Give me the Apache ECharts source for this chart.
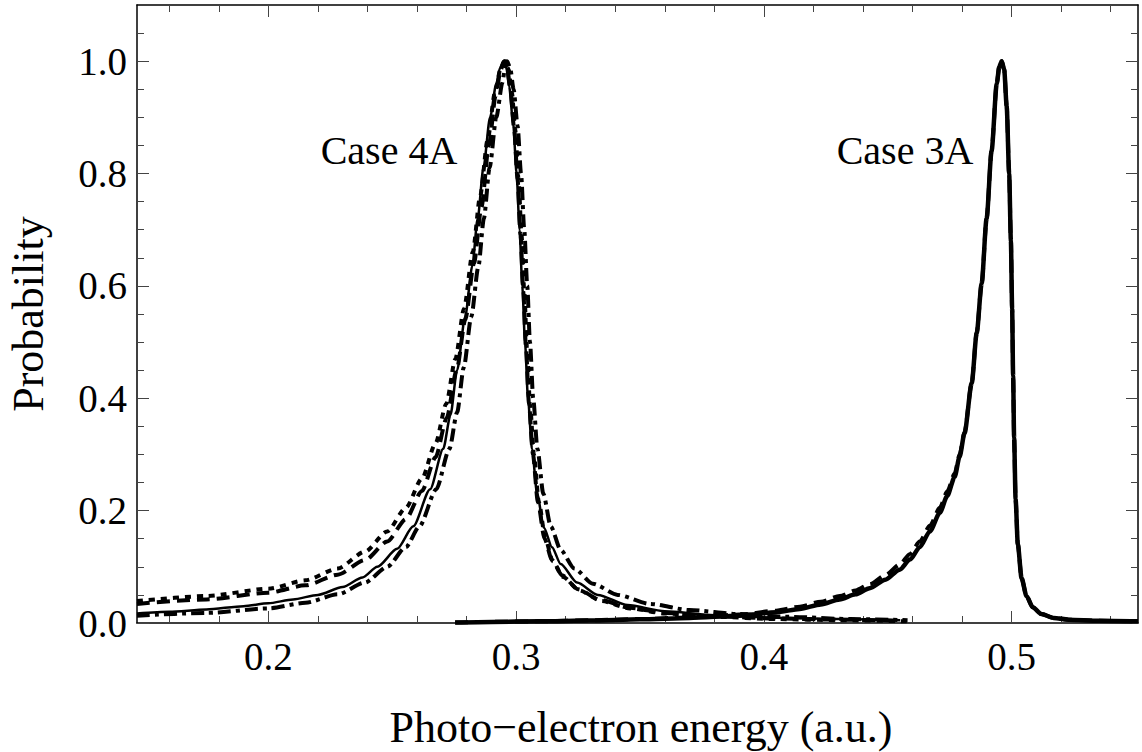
<!DOCTYPE html>
<html>
<head>
<meta charset="utf-8">
<script src="https://cdn.jsdelivr.net/npm/echarts@6/dist/echarts.min.js"></script>
<style>html,body{margin:0;padding:0;background:#fff}#c{width:1142px;height:752px}</style>
</head>
<body>
<div id="c"></div>
<script>
// ---- tick values ----
const xTicksMajor = [0.2, 0.3, 0.4, 0.5];
const xTicksMinor = [0.16, 0.18, 0.22, 0.24, 0.26, 0.28, 0.32, 0.34, 0.36, 0.38, 0.42, 0.44, 0.46, 0.48, 0.52, 0.54];
const yTicksMajor = [0, 0.2, 0.4, 0.6, 0.8, 1.0];
const yTicksMinor = [0.05, 0.1, 0.15, 0.25, 0.3, 0.35, 0.45, 0.5, 0.55, 0.65, 0.7, 0.75, 0.85, 0.9, 0.95, 1.05];

// ---- Case 4A: solid (thin) ----
const c4A_solid_x = [0.147, 0.160, 0.175, 0.190, 0.200, 0.210, 0.220, 0.230, 0.238, 0.244, 0.252, 0.2585, 0.2653, 0.2706, 0.2735, 0.2762, 0.2794, 0.2823, 0.2845, 0.2868, 0.2895, 0.2920, 0.2935, 0.2948, 0.2960, 0.2972, 0.2988, 0.3002, 0.3014, 0.3025, 0.3036, 0.3048, 0.3064, 0.3085, 0.3112, 0.3145, 0.3180, 0.3246, 0.3330, 0.3450, 0.3600, 0.3800, 0.4050, 0.4300, 0.4550];
const c4A_solid_y = [0.017, 0.020, 0.024, 0.030, 0.035, 0.042, 0.050, 0.064, 0.081, 0.100, 0.132, 0.172, 0.238, 0.310, 0.370, 0.450, 0.544, 0.635, 0.720, 0.810, 0.900, 0.960, 0.988, 1.000, 0.990, 0.955, 0.890, 0.800, 0.700, 0.600, 0.500, 0.400, 0.310, 0.230, 0.170, 0.135, 0.105, 0.072, 0.050, 0.032, 0.021, 0.014, 0.0095, 0.007, 0.005];

// ---- Case 4A: dashed ----
const c4A_dash_x = [0.147, 0.175, 0.200, 0.215, 0.228, 0.239, 0.248, 0.2555, 0.262, 0.2675, 0.2720, 0.2760, 0.2795, 0.2830, 0.2860, 0.2890, 0.2918, 0.2938, 0.2952, 0.2965, 0.2978, 0.2992, 0.3006, 0.3018, 0.3029, 0.3040, 0.3052, 0.3068, 0.3088, 0.3115, 0.3145, 0.3185, 0.3250, 0.3340, 0.3460, 0.3600, 0.3800, 0.4050, 0.4300, 0.4550];
const c4A_dash_y = [0.034, 0.042, 0.054, 0.067, 0.086, 0.112, 0.145, 0.185, 0.235, 0.295, 0.365, 0.450, 0.540, 0.640, 0.740, 0.850, 0.940, 0.985, 1.000, 0.985, 0.945, 0.880, 0.790, 0.690, 0.590, 0.490, 0.390, 0.300, 0.215, 0.150, 0.112, 0.085, 0.060, 0.041, 0.027, 0.018, 0.012, 0.008, 0.006, 0.004];

// ---- Case 4A: dotted ----
const c4A_dot_x = [0.147, 0.175, 0.200, 0.215, 0.228, 0.239, 0.248, 0.2555, 0.262, 0.2675, 0.2718, 0.2755, 0.2790, 0.2825, 0.2855, 0.2885, 0.2915, 0.2938, 0.2956, 0.2970, 0.2983, 0.2996, 0.3010, 0.3022, 0.3033, 0.3044, 0.3056, 0.3072, 0.3092, 0.3118, 0.3148, 0.3190, 0.3255, 0.3345, 0.3460, 0.3600, 0.3800, 0.4050, 0.4300, 0.4580];
const c4A_dot_y = [0.039, 0.048, 0.061, 0.076, 0.097, 0.127, 0.163, 0.205, 0.257, 0.320, 0.390, 0.470, 0.560, 0.660, 0.760, 0.860, 0.945, 0.988, 1.000, 0.985, 0.945, 0.880, 0.790, 0.690, 0.590, 0.490, 0.390, 0.300, 0.215, 0.150, 0.110, 0.082, 0.058, 0.039, 0.026, 0.017, 0.011, 0.007, 0.005, 0.003];

// ---- Case 4A: dot-dashed ----
const c4A_dotdash_x = [0.147, 0.175, 0.200, 0.215, 0.228, 0.239, 0.248, 0.2555, 0.2610, 0.2678, 0.2731, 0.2762, 0.2789, 0.2819, 0.2848, 0.2870, 0.2893, 0.2920, 0.2945, 0.2955, 0.2964, 0.2976, 0.2990, 0.3006, 0.3020, 0.3033, 0.3045, 0.3056, 0.3069, 0.3086, 0.3110, 0.3140, 0.3180, 0.3235, 0.3310, 0.3410, 0.3540, 0.3700, 0.3900, 0.4100, 0.4350, 0.4580];
const c4A_dotdash_y = [0.013, 0.018, 0.026, 0.036, 0.051, 0.072, 0.100, 0.135, 0.172, 0.238, 0.310, 0.375, 0.455, 0.545, 0.635, 0.720, 0.810, 0.900, 0.962, 0.988, 1.000, 0.988, 0.950, 0.885, 0.800, 0.700, 0.600, 0.500, 0.400, 0.310, 0.230, 0.172, 0.130, 0.097, 0.070, 0.050, 0.034, 0.023, 0.016, 0.011, 0.007, 0.005];

// ---- Case 3A: solid (thick) ----
const c3A_solid_x = [0.2754, 0.290, 0.310, 0.330, 0.350, 0.370, 0.390, 0.4050, 0.4145, 0.4230, 0.4306, 0.4370, 0.4427, 0.4490, 0.4548, 0.4590, 0.4629, 0.4670, 0.4710, 0.4740, 0.4770, 0.4790, 0.4810, 0.4839, 0.4859, 0.4879, 0.4899, 0.4919, 0.4940, 0.4950, 0.4960, 0.4970, 0.4980, 0.4990, 0.4997, 0.5002, 0.5006, 0.5010, 0.5016, 0.5025, 0.5040, 0.5060, 0.5085, 0.5120, 0.5170, 0.5230, 0.5350, 0.5510];
const c3A_solid_y = [0.001, 0.002, 0.003, 0.0045, 0.0065, 0.009, 0.013, 0.019, 0.025, 0.033, 0.042, 0.051, 0.062, 0.077, 0.095, 0.113, 0.135, 0.163, 0.196, 0.226, 0.260, 0.296, 0.338, 0.427, 0.516, 0.604, 0.720, 0.840, 0.960, 0.990, 1.000, 0.985, 0.920, 0.800, 0.680, 0.560, 0.440, 0.330, 0.220, 0.140, 0.080, 0.048, 0.028, 0.016, 0.009, 0.006, 0.004, 0.003];

// ---- Case 3A: dashed ----
const c3A_dash_x = [0.2754, 0.290, 0.310, 0.330, 0.350, 0.370, 0.390, 0.4050, 0.4145, 0.4230, 0.4306, 0.4370, 0.4427, 0.4490, 0.4548, 0.4590, 0.4629, 0.4670, 0.4710, 0.4740, 0.4770, 0.4790, 0.4810, 0.4839, 0.4859, 0.4879, 0.4899, 0.4919, 0.4940, 0.4950, 0.4960, 0.4970, 0.4980, 0.4990, 0.4997, 0.5002, 0.5006, 0.5010, 0.5016, 0.5025, 0.5040, 0.5060, 0.5085, 0.5120, 0.5170, 0.5230, 0.5350, 0.5510];
const c3A_dash_y = [0.001, 0.002, 0.003, 0.005, 0.007, 0.010, 0.015, 0.022, 0.029, 0.038, 0.048, 0.058, 0.069, 0.085, 0.104, 0.123, 0.145, 0.173, 0.205, 0.234, 0.266, 0.300, 0.340, 0.428, 0.516, 0.604, 0.720, 0.840, 0.960, 0.990, 1.000, 0.985, 0.920, 0.800, 0.680, 0.560, 0.440, 0.330, 0.220, 0.140, 0.080, 0.048, 0.028, 0.016, 0.009, 0.006, 0.004, 0.003];

// ---- text ----
const xAxisTitle = 'Photo\u2212electron energy (a.u.)';
const yAxisTitle = 'Probability';
const caseLabels = ['Case 4A', 'Case 3A'];

const FONT = 'Liberation Serif';
const zip = (xs, ys) => xs.map((x, i) => [x, ys[i]]);

const chart = echarts.init(document.getElementById('c'), null, {renderer: 'svg', width: 1142, height: 752});

const xMin = 0.147, xMax = 0.551, yMin = 0, yMax = 1.1;
const lineCol = '#000';
const tickCol = '#444';

function xAx(pos, ticks, len, showLabel, showLine) {
  return {
    type: 'value', position: pos, min: xMin, max: xMax,
    axisLine: {show: showLine, onZero: false, lineStyle: {color: lineCol, width: 1.5}},
    axisTick: {show: true, inside: true, length: len, customValues: ticks, lineStyle: {color: tickCol, width: 1}},
    axisLabel: {show: showLabel, customValues: ticks, margin: 14, fontFamily: FONT, fontSize: 39, color: '#000',
      formatter: v => v.toFixed(1)},
    splitLine: {show: false}
  };
}
function yAx(pos, ticks, len, showLabel, showLine) {
  return {
    type: 'value', position: pos, min: yMin, max: yMax,
    axisLine: {show: showLine, onZero: false, lineStyle: {color: lineCol, width: 1.5}},
    axisTick: {show: true, inside: true, length: len, customValues: ticks, lineStyle: {color: tickCol, width: 1}},
    axisLabel: {show: showLabel, customValues: ticks, margin: 10, fontFamily: FONT, fontSize: 39, color: '#000',
      formatter: v => v.toFixed(1)},
    splitLine: {show: false}
  };
}

function line(name, xs, ys, width, type) {
  return {
    name: name, type: 'line', xAxisIndex: 0, yAxisIndex: 0,
    data: zip(xs, ys), symbol: 'none', smooth: 0.25, smoothMonotone: 'x',
    lineStyle: {color: '#000', width: width, type: type, cap: 'butt', join: 'round'},
    silent: true, animation: false, z: 3
  };
}

chart.setOption({
  backgroundColor: '#fff',
  animation: false,
  grid: {left: 137, right: 4, top: 5, bottom: 129, containLabel: false},
  xAxis: [
    xAx('bottom', xTicksMajor, 12, true, true),
    xAx('bottom', xTicksMinor, 7, false, false),
    xAx('top', xTicksMajor, 12, false, true),
    xAx('top', xTicksMinor, 7, false, false)
  ],
  yAxis: [
    yAx('left', yTicksMajor, 12, true, true),
    yAx('left', yTicksMinor, 7, false, false),
    yAx('right', yTicksMajor, 12, false, true),
    yAx('right', yTicksMinor, 7, false, false)
  ],
  series: [
    line('4A solid', c4A_solid_x, c4A_solid_y, 2.5, 'solid'),
    line('4A dashed', c4A_dash_x, c4A_dash_y, 4, [13, 7]),
    line('4A dotted', c4A_dot_x, c4A_dot_y, 4, [6, 6]),
    line('4A dot-dashed', c4A_dotdash_x, c4A_dotdash_y, 4, [13, 5, 4, 5]),
    line('3A dashed', c3A_dash_x, c3A_dash_y, 4, [13, 7]),
    line('3A solid', c3A_solid_x, c3A_solid_y, 4.5, 'solid')
  ],
  graphic: [
    {type: 'text', x: 641, y: 727, style: {text: xAxisTitle, font: '44px "' + FONT + '"', fill: '#000', textAlign: 'center', textVerticalAlign: 'middle'}},
    {type: 'text', x: 28, y: 314, rotation: Math.PI / 2, style: {text: yAxisTitle, font: '44px "' + FONT + '"', fill: '#000', textAlign: 'center', textVerticalAlign: 'middle'}},
    {type: 'text', x: 389, y: 150, style: {text: caseLabels[0], font: '40px "' + FONT + '"', fill: '#000', textAlign: 'center', textVerticalAlign: 'middle'}},
    {type: 'text', x: 905, y: 150, style: {text: caseLabels[1], font: '40px "' + FONT + '"', fill: '#000', textAlign: 'center', textVerticalAlign: 'middle'}}
  ]
});
</script>
</body>
</html>
